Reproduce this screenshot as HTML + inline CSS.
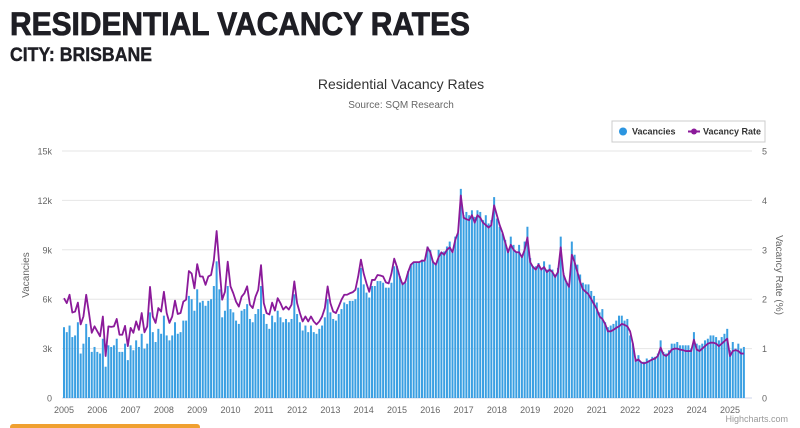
<!DOCTYPE html>
<html><head><meta charset="utf-8">
<style>
body{margin:0;background:#fff;width:800px;height:428px;overflow:hidden;font-family:"Liberation Sans",sans-serif;}
svg{display:block}
</style></head>
<body>
<svg id="chart" width="800" height="428" xmlns="http://www.w3.org/2000/svg">
<text x="10" y="35" font-family="Liberation Sans" font-weight="bold" font-size="32" fill="#1e1e24" stroke="#1e1e24" stroke-width="0.8" textLength="460" lengthAdjust="spacingAndGlyphs">RESIDENTIAL VACANCY RATES</text>
<text x="10" y="61" font-family="Liberation Sans" font-weight="bold" font-size="19" fill="#1e1e24" stroke="#1e1e24" stroke-width="0.4" textLength="142" lengthAdjust="spacingAndGlyphs">CITY: BRISBANE</text>
<text x="401" y="89" text-anchor="middle" font-size="14" fill="#333">Residential Vacancy Rates</text>
<text x="401" y="108" text-anchor="middle" font-size="10" fill="#666">Source: SQM Research</text>
<g>
<rect x="612" y="121" width="153" height="21" fill="#fff" stroke="#ccc" stroke-width="1"/>
<g><circle cx="623" cy="131.5" r="4" fill="#2b95e0"/><text x="632" y="134.5" font-size="9" font-weight="bold" fill="#333">Vacancies</text></g>
<g><line x1="688" y1="131.5" x2="700" y2="131.5" stroke="#8b1a9a" stroke-width="2"/><circle cx="694" cy="131.5" r="3" fill="#8b1a9a"/><text x="703" y="134.5" font-size="9" font-weight="bold" fill="#333">Vacancy Rate</text></g>
</g>
<g id="grid"></g><g id="bars"></g><g id="line"></g><g id="axes"></g>
<text transform="translate(29,275) rotate(-90)" text-anchor="middle" font-size="10" fill="#666">Vacancies</text>
<text transform="translate(776,275) rotate(90)" text-anchor="middle" font-size="10" fill="#666">Vacancy Rate (%)</text>
<text x="788" y="422" text-anchor="end" font-size="9" fill="#999">Highcharts.com</text>
<rect x="10" y="424" width="190" height="6" rx="3" fill="#f0a030"/>
</svg>
<script>
const startYear = 2005;
const vacancies = [
4.3,4.0,4.4,3.7,3.8,4.6,2.7,3.3,4.5,3.7,2.8,3.1,
2.8,2.7,3.6,1.9,3.2,3.1,3.2,3.6,2.8,2.8,3.3,2.3,
3.2,2.9,3.5,3.1,3.9,3.0,3.3,5.2,4.0,3.4,4.2,3.9,
5.0,3.8,3.5,3.8,4.6,3.9,4.0,4.7,4.7,6.2,6.0,5.3,
6.6,5.8,5.9,5.6,5.9,6.0,6.8,8.3,6.6,4.9,5.3,6.8,
5.4,5.2,4.7,4.5,5.3,5.4,5.7,4.8,4.6,5.1,5.4,6.8,
5.1,4.5,4.2,5.0,4.6,5.3,4.9,4.6,4.8,4.6,4.8,6.3,
5.1,4.6,4.1,4.4,4.0,4.4,4.0,3.9,4.2,4.4,4.9,6.0,
5.2,4.8,4.7,5.1,5.4,5.8,5.7,5.9,5.9,6.0,6.7,7.9,
6.9,6.4,6.1,6.8,6.8,7.1,7.1,7.0,6.7,6.7,7.0,8.0,
8.0,7.4,6.9,7.0,7.7,8.1,8.2,8.2,8.2,8.4,8.3,9.2,
9.0,8.3,8.1,9.0,8.8,8.9,9.2,9.5,9.0,9.8,10.0,12.7,
11.1,11.3,11.1,11.4,11.0,11.4,11.3,10.8,11.1,10.6,10.8,12.2,
10.9,10.4,10.0,9.6,8.9,9.8,9.3,8.9,9.3,8.6,9.5,10.4,
8.5,8.0,8.0,8.2,7.9,8.3,7.8,8.1,7.8,7.5,7.9,9.8,
7.6,7.1,6.8,9.5,8.7,8.1,7.5,7.0,6.9,6.9,6.5,6.2,
5.8,5.2,5.4,4.6,4.3,4.4,4.5,4.7,5.0,5.0,4.7,4.8,
3.8,3.3,2.4,2.6,2.2,2.2,2.4,2.3,2.5,2.5,2.7,3.5,
2.8,2.7,2.9,3.3,3.3,3.4,3.2,3.2,3.2,3.2,3.0,4.0,
3.3,3.2,3.3,3.5,3.6,3.8,3.8,3.7,3.5,3.7,3.9,4.2,
2.9,3.4,3.0,3.3,3.0,3.1];
const rates = [
2.02,1.92,2.09,1.73,1.75,1.93,1.49,1.65,2.09,1.72,1.32,1.45,
1.35,1.25,1.65,0.85,1.45,1.44,1.45,1.6,1.28,1.28,1.46,1.05,
1.42,1.32,1.55,1.38,1.72,1.33,1.45,2.25,1.65,1.52,1.82,1.75,
2.15,1.72,1.52,1.65,1.97,1.7,1.72,1.95,1.99,2.57,2.52,2.22,
2.71,2.46,2.46,2.29,2.46,2.49,2.79,3.38,2.66,1.99,2.15,2.76,
2.26,2.12,1.95,1.85,2.05,2.12,2.26,1.89,1.82,2.05,2.19,2.69,
1.92,1.72,1.69,1.93,1.77,2.02,1.92,1.79,1.85,1.79,1.89,2.36,
1.92,1.72,1.55,1.65,1.55,1.65,1.55,1.49,1.55,1.65,1.82,2.26,
1.92,1.75,1.72,1.85,1.99,2.09,2.09,2.12,2.14,2.19,2.46,2.8,
2.52,2.32,2.15,2.39,2.39,2.49,2.48,2.46,2.34,2.32,2.52,2.82,
2.65,2.45,2.3,2.35,2.55,2.7,2.75,2.75,2.75,2.78,2.78,3.05,
2.95,2.75,2.7,2.85,2.95,2.9,3.0,3.05,2.95,3.2,3.35,4.1,
3.65,3.62,3.6,3.7,3.55,3.7,3.65,3.55,3.5,3.45,3.5,3.9,
3.7,3.5,3.35,3.15,2.95,3.1,3.0,2.95,2.95,2.85,3.0,3.25,
2.75,2.65,2.6,2.7,2.6,2.65,2.55,2.6,2.55,2.45,2.55,3.05,
2.5,2.35,2.25,2.9,2.75,2.55,2.35,2.2,2.15,2.1,2.0,1.9,
1.8,1.65,1.6,1.5,1.35,1.35,1.38,1.42,1.45,1.5,1.48,1.45,
1.35,1.1,0.75,0.78,0.72,0.7,0.72,0.75,0.78,0.8,0.85,1.02,
0.88,0.85,0.9,0.98,1.0,1.0,0.98,0.97,0.95,0.95,0.95,1.18,
0.98,0.95,1.0,1.05,1.1,1.12,1.12,1.1,1.05,1.1,1.15,1.2,
0.85,0.95,0.97,0.95,0.9,0.9];
const leftTicks = [0,3,6,9,12,15];
const leftTickLabels = ["0","3k","6k","9k","12k","15k"];
const rightTicks = [0,1,2,3,4,5];
const xYears = [2005,2006,2007,2008,2009,2010,2011,2012,2013,2014,2015,2016,2017,2018,2019,2020,2021,2022,2023,2024,2025];

const NS="http://www.w3.org/2000/svg";
const plotL=62,plotR=752,plotT=151,plotB=398;
const x0=64,monthW=(730-64)/240;
function xPos(i){return x0+i*monthW;}
function yLeft(v){return plotB-(v/15)*(plotB-plotT);}
function yRight(v){return plotB-(v/5)*(plotB-plotT);}
function mk(tag,attrs,parent){const e=document.createElementNS(NS,tag);for(const k in attrs)e.setAttribute(k,attrs[k]);parent.appendChild(e);return e;}
const grid=document.getElementById('grid'),bars=document.getElementById('bars'),line=document.getElementById('line'),axes=document.getElementById('axes');
leftTicks.forEach((t,i)=>{
  const y=yLeft(t);
  const g=mk('line',{x1:plotL,x2:plotR,y1:y,y2:y,stroke:i===0?'#ccd6eb':'#e6e6e6','stroke-width':1},grid);
  
  
  const tx=mk('text',{x:52,y:y+3.5,'text-anchor':'end','font-size':9,fill:'#666'},axes);
  tx.textContent=leftTickLabels[i];
  
  
});
rightTicks.forEach(t=>{
  const tx=mk('text',{x:762,y:yRight(t)+3.5,'text-anchor':'start','font-size':9,fill:'#666'},axes);
  tx.textContent=String(t);
  
  
});
xYears.forEach(yr=>{
  const x=xPos((yr-startYear)*12);
  const tx=mk('text',{x:x,y:413,'text-anchor':'middle','font-size':9,fill:'#666'},axes);
  tx.textContent=String(yr);
  
  
});
vacancies.forEach((v,i)=>{
  const x=xPos(i),y=yLeft(v);
  const r=mk('rect',{x:x-1,y:y,width:2,height:plotB-y,fill:'#3a9fe2'},bars);
  
  
});
const pts=rates.map((v,i)=>xPos(i).toFixed(2)+','+yRight(v).toFixed(2)).join(' ');
const pl=mk('polyline',{points:pts,fill:'none',stroke:'#8b1a9a','stroke-width':1.8,'stroke-linejoin':'round'},line);


</script>
</body></html>
